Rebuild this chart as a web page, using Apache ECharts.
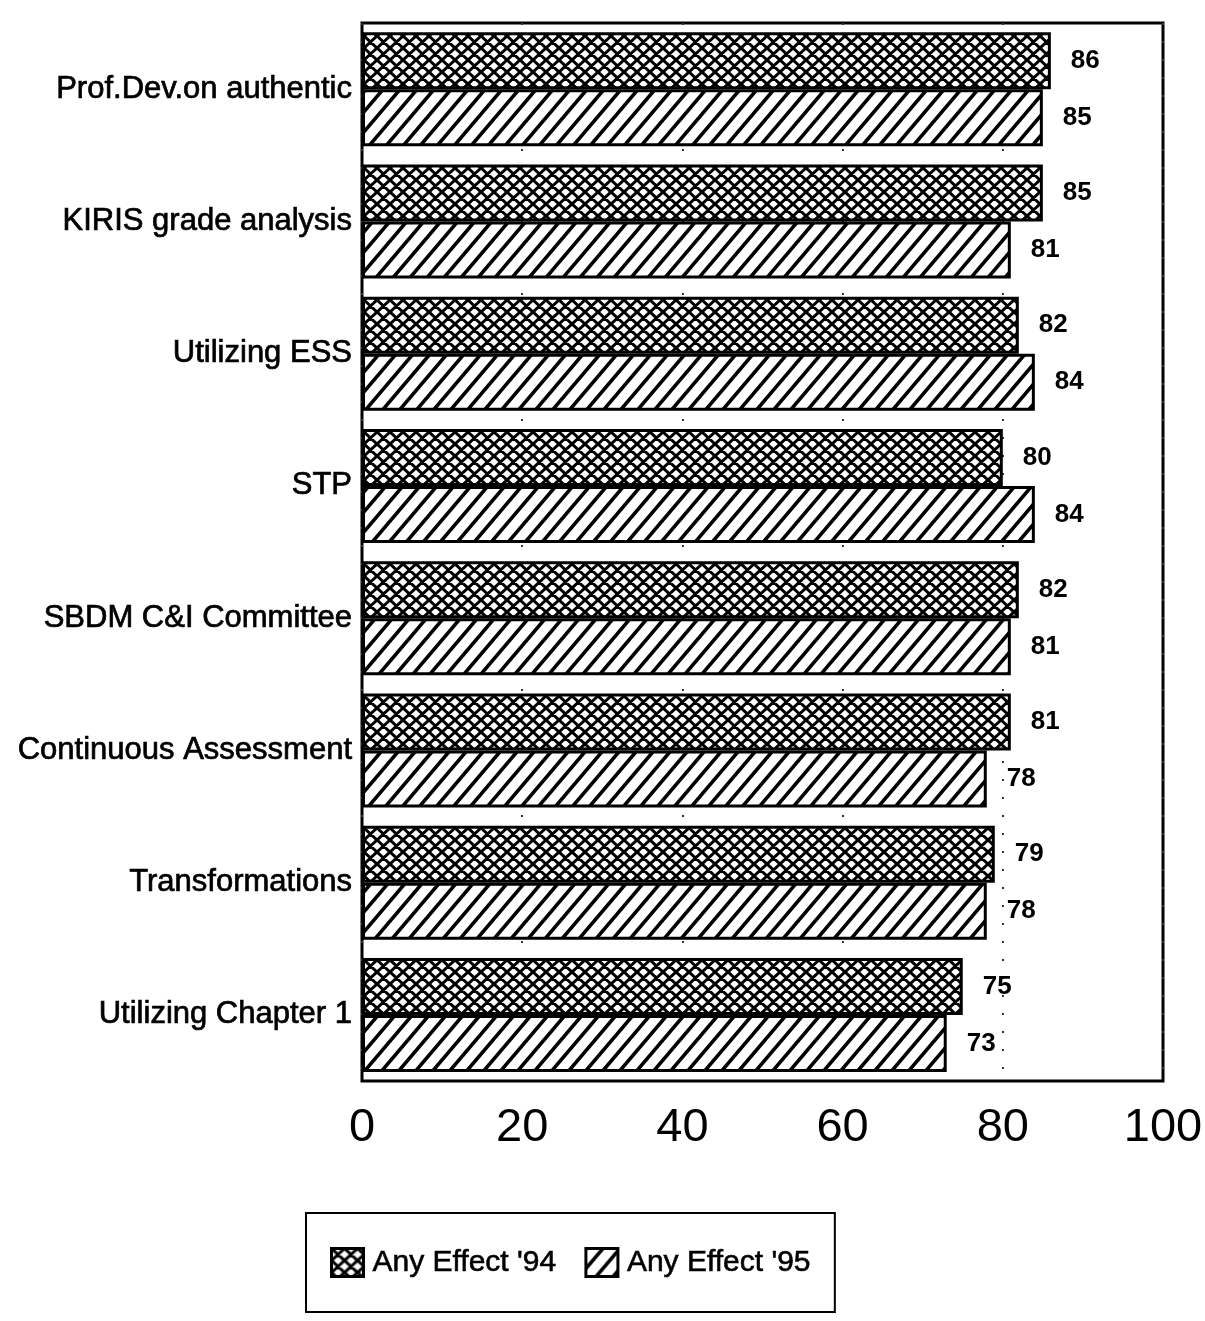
<!DOCTYPE html>
<html>
<head>
<meta charset="utf-8">
<script src="https://cdn.jsdelivr.net/npm/echarts@6/dist/echarts.min.js"></script>
<style>
html,body{margin:0;padding:0;background:#fff;}
#chart{width:1205px;height:1321px;}
</style>
</head>
<body>
<div id="chart"></div>
<script>
const categories = [
  "Prof.Dev.on authentic",
  "KIRIS grade analysis",
  "Utilizing ESS",
  "STP",
  "SBDM C&I Committee",
  "Continuous Assessment",
  "Transformations",
  "Utilizing Chapter 1"
];
const seriesNames = ["Any Effect '94", "Any Effect '95"];
const values94 = [86, 85, 82, 80, 82, 81, 79, 75];
const values95 = [85, 81, 84, 84, 81, 78, 78, 73];
const xTicks = { min: 0, max: 100, interval: 20 };

// hatch tile: W x H, lines run corner to corner
function makePattern(W, H, dirs, lw) {
  const c = document.createElement('canvas');
  c.width = W; c.height = H;
  const g = c.getContext('2d');
  g.fillStyle = '#fff';
  g.fillRect(0, 0, W, H);
  g.strokeStyle = '#000';
  g.lineWidth = lw;
  g.beginPath();
  const e = 0.5;
  dirs.forEach(function (d) {
    [-1, 0, 1].forEach(function (k) {
      const ox = k * W;
      if (d === '/') {
        g.moveTo(ox + W * (1 + e), -H * e);
        g.lineTo(ox - W * e, H * (1 + e));
      } else {
        g.moveTo(ox - W * e, -H * e);
        g.lineTo(ox + W * (1 + e), H * (1 + e));
      }
    });
  });
  g.stroke();
  return { image: c, repeat: 'repeat' };
}

const crossFill = makePattern(13, 12, ['/', '\\'], 3);
const diagFill = makePattern(17, 20, ['/'], 3.6);

const FONT = '"Liberation Sans", Arial, Helvetica, sans-serif';

const chart = echarts.init(document.getElementById('chart'), null, { renderer: 'canvas' });

function barSeries(name, data, fill) {
  return {
    name: name,
    type: 'bar',
    data: data,
    barWidth: 57,
    barGap: '0%',
    itemStyle: { color: fill, borderColor: '#000', borderWidth: 3 },
    label: {
      show: true,
      position: 'right',
      distance: 20,
      color: '#000',
      fontSize: 26,
      fontWeight: 'bold',
      fontFamily: FONT
    },
    emphasis: { disabled: true },
    animation: false
  };
}

chart.setOption({
  backgroundColor: '#fff',
  animation: false,
  grid: {
    show: true,
    left: 362,
    right: 42,
    top: 23,
    bottom: 240,
    borderColor: '#000',
    borderWidth: 3,
    containLabel: false,
    outerBoundsMode: 'none'
  },
  legend: {
    data: seriesNames,
    left: 306,
    top: 1213,
    orient: 'horizontal',
    itemWidth: 32,
    itemHeight: 28,
    itemGap: 28,
    padding: [34, 24],
    borderColor: '#000',
    borderWidth: 2,
    icon: 'rect',
    itemStyle: { borderColor: '#000', borderWidth: 3 },
    textStyle: {
      color: '#000', fontSize: 30, fontFamily: FONT, padding: [0, 0, 0, 4],
      textBorderColor: '#000', textBorderWidth: 0.6
    },
    selectedMode: false
  },
  xAxis: {
    type: 'value',
    min: xTicks.min,
    max: xTicks.max,
    interval: xTicks.interval,
    axisLine: { show: false },
    axisTick: { show: false },
    splitLine: { show: true, lineStyle: { color: '#333', width: 2, type: [2, 16] } },
    axisLabel: { color: '#000', fontSize: 47, fontFamily: FONT, margin: 24 }
  },
  yAxis: {
    type: 'category',
    data: categories,
    inverse: true,
    axisLine: { show: false },
    axisTick: { show: false },
    splitLine: { show: false },
    axisLabel: {
      color: '#000', fontSize: 31, fontFamily: FONT, margin: 10,
      textBorderColor: '#000', textBorderWidth: 0.7
    }
  },
  series: [
    barSeries(seriesNames[0], values94, crossFill),
    barSeries(seriesNames[1], values95, diagFill)
  ]
});
</script>
</body>
</html>
